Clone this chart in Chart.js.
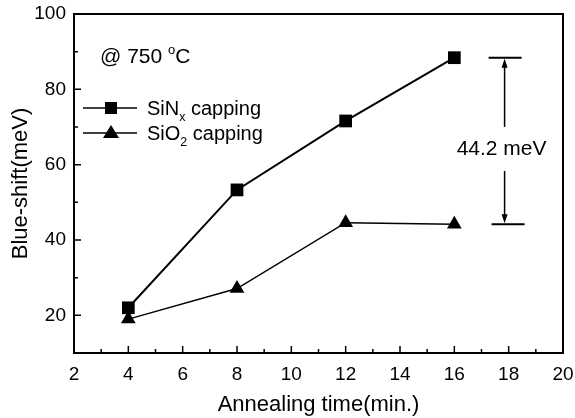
<!DOCTYPE html>
<html>
<head>
<meta charset="utf-8">
<script src="https://cdn.jsdelivr.net/npm/chart.js@4.4.1/dist/chart.umd.min.js"></script>
<style>
  html, body { margin: 0; padding: 0; background: #fff; }
</style>
</head>
<body>
<canvas id="chart" width="575" height="418"></canvas>
<script>
// annealing time (min.) and blue-shift (meV)
const times = [4, 8, 12, 16];
const sinxShift = [22, 53.3, 71.6, 88.4];
const sio2Shift = [19, 27.1, 44.6, 44.2];

const xTicks = [2, 4, 6, 8, 10, 12, 14, 16, 18, 20];
const xMinor = [3, 5, 7, 9, 11, 13, 15, 17, 19];
const yTicks = [20, 40, 60, 80, 100];
const yMinor = [30, 50, 70, 90];

const bracketX = 17.85;
const FONT = "'Liberation Sans', Arial, sans-serif";

// draws text pieces, some of them subscript / superscript
function drawRich(ctx, parts, x, y, size) {
  ctx.textAlign = 'left';
  ctx.textBaseline = 'alphabetic';
  let cx = x;
  parts.forEach(p => {
    let s = size, dy = 0;
    if (p.sub) { s = size * 0.62; dy = size * 0.28; }
    if (p.sup) { s = size * 0.62; dy = -size * 0.42; }
    ctx.font = s + 'px ' + FONT;
    ctx.fillText(p.t, cx, y + dy);
    cx += ctx.measureText(p.t).width;
  });
}

const extras = {
  id: 'extras',
  afterDraw(chart) {
    const ctx = chart.ctx;
    const a = chart.chartArea;
    const xs = chart.scales.x, ys = chart.scales.y;
    ctx.save();
    ctx.strokeStyle = '#000';
    ctx.fillStyle = '#000';

    // frame
    ctx.lineWidth = 2;
    ctx.strokeRect(a.left, a.top, a.right - a.left, a.bottom - a.top);

    // inward ticks
    ctx.lineWidth = 1.5;
    ctx.beginPath();
    xTicks.forEach(v => { const px = xs.getPixelForValue(v); ctx.moveTo(px, a.bottom); ctx.lineTo(px, a.bottom - 7); });
    xMinor.forEach(v => { const px = xs.getPixelForValue(v); ctx.moveTo(px, a.bottom); ctx.lineTo(px, a.bottom - 4); });
    yTicks.forEach(v => { const py = ys.getPixelForValue(v); ctx.moveTo(a.left, py); ctx.lineTo(a.left + 7, py); });
    yMinor.forEach(v => { const py = ys.getPixelForValue(v); ctx.moveTo(a.left, py); ctx.lineTo(a.left + 4, py); });
    ctx.stroke();

    // temperature label
    drawRich(ctx, [{ t: '@ 750 ' }, { t: 'o', sup: true }, { t: 'C' }], 100, 63, 21);

    // legend
    const rows = [
      { y: 108, shape: 'rect', parts: [{ t: 'SiN' }, { t: 'x', sub: true }, { t: ' capping' }] },
      { y: 133, shape: 'tri', parts: [{ t: 'SiO' }, { t: '2', sub: true }, { t: ' capping' }] }
    ];
    rows.forEach(r => {
      ctx.lineWidth = 1.5;
      ctx.beginPath();
      ctx.moveTo(83, r.y); ctx.lineTo(137, r.y);
      ctx.stroke();
      ctx.beginPath();
      if (r.shape === 'rect') {
        ctx.rect(111 - 6, r.y - 6, 12, 12);
      } else {
        ctx.moveTo(111, r.y - 8); ctx.lineTo(119, r.y + 5); ctx.lineTo(103, r.y + 5); ctx.closePath();
      }
      ctx.fill();
      drawRich(ctx, r.parts, 147, r.y + 7, 20);
    });

    // 44.2 meV bracket
    const bx = xs.getPixelForValue(bracketX);
    const top = ys.getPixelForValue(sinxShift[3]);
    const bot = ys.getPixelForValue(sio2Shift[3]);
    const mid = (top + bot) / 2 + 8;
    ctx.lineWidth = 2;
    ctx.beginPath();
    ctx.moveTo(bx - 16, top); ctx.lineTo(bx + 17, top);
    ctx.moveTo(bx - 13, bot); ctx.lineTo(bx + 20, bot);
    ctx.stroke();
    ctx.lineWidth = 1.5;
    ctx.beginPath();
    ctx.moveTo(bx, top + 6); ctx.lineTo(bx, mid - 22);
    ctx.moveTo(bx, mid + 22); ctx.lineTo(bx, bot - 6);
    ctx.stroke();
    ctx.beginPath();
    ctx.moveTo(bx, top + 1); ctx.lineTo(bx - 3, top + 10); ctx.lineTo(bx + 3, top + 10); ctx.closePath();
    ctx.moveTo(bx, bot - 1); ctx.lineTo(bx - 3, bot - 10); ctx.lineTo(bx + 3, bot - 10); ctx.closePath();
    ctx.fill();
    ctx.font = '21px ' + FONT;
    ctx.textAlign = 'center';
    ctx.textBaseline = 'middle';
    ctx.fillText('44.2 meV', bx - 3, mid);

    ctx.restore();
  }
};

new Chart(document.getElementById('chart'), {
  type: 'line',
  data: {
    datasets: [
      {
        label: 'SiNx capping',
        data: times.map((t, i) => ({ x: t, y: sinxShift[i] })),
        borderColor: '#000',
        backgroundColor: '#000',
        borderWidth: 2,
        pointStyle: 'rect',
        pointRadius: 9,
        pointBorderWidth: 0,
        tension: 0
      },
      {
        label: 'SiO2 capping',
        data: times.map((t, i) => ({ x: t, y: sio2Shift[i] })),
        borderColor: '#000',
        backgroundColor: '#000',
        borderWidth: 1.5,
        pointStyle: 'triangle',
        pointRadius: 8.5,
        pointBorderWidth: 0,
        tension: 0
      }
    ]
  },
  options: {
    responsive: false,
    animation: false,
    layout: { padding: { top: 14, right: 12, left: 0, bottom: 0 } },
    plugins: { legend: { display: false }, tooltip: { enabled: false } },
    scales: {
      x: {
        type: 'linear',
        min: 2, max: 20,
        afterFit: s => { s.height = 65; s.paddingLeft = 0; s.paddingRight = 0; },
        afterBuildTicks: s => { s.ticks = xTicks.map(v => ({ value: v })); },
        grid: { display: false, drawTicks: false },
        border: { display: false },
        ticks: { color: '#000', padding: 10, maxRotation: 0, font: { family: FONT, size: 19 } },
        title: { display: true, text: 'Annealing time(min.)', color: '#000', padding: 0, font: { family: FONT, size: 22 } }
      },
      y: {
        type: 'linear',
        min: 10, max: 100,
        afterFit: s => { s.width = 74; s.paddingTop = 0; s.paddingBottom = 0; },
        afterBuildTicks: s => { s.ticks = yTicks.map(v => ({ value: v })); },
        grid: { display: false, drawTicks: false },
        border: { display: false },
        ticks: { color: '#000', padding: 8, font: { family: FONT, size: 19 } },
        title: { display: true, text: 'Blue-shift(meV)', color: '#000', padding: { top: 8, bottom: 0 }, font: { family: FONT, size: 22 } }
      }
    }
  },
  plugins: [extras]
});
</script>
</body>
</html>
